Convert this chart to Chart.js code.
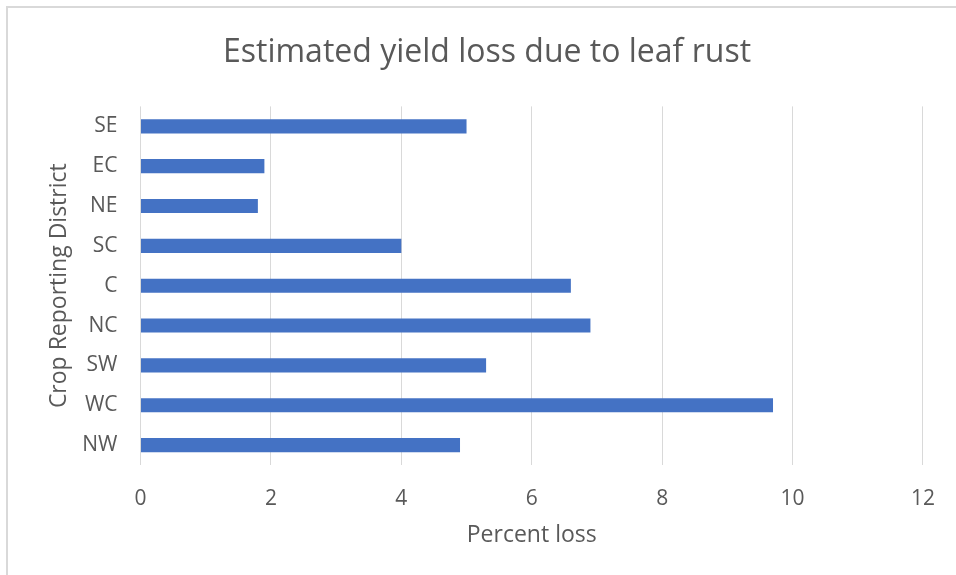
<!DOCTYPE html>
<html>
<head>
<meta charset="utf-8">
<script src="https://cdn.jsdelivr.net/npm/chart.js@4/dist/chart.umd.min.js"></script>
<style>
  html, body { margin: 0; padding: 0; background: #ffffff; }
  #wrap { position: relative; width: 956px; height: 575px; }
  canvas { display: block; }
</style>
</head>
<body>
<div id="wrap"><canvas id="c" width="956" height="575"></canvas></div>
<script>
const chartTitle = 'Estimated yield loss due to leaf rust';
const categories = ['SE', 'EC', 'NE', 'SC', 'C', 'NC', 'SW', 'WC', 'NW'];
const percentLoss = [5.0, 1.9, 1.8, 4.0, 6.6, 6.9, 5.3, 9.7, 4.9];
const xTickValues = [0, 2, 4, 6, 8, 10, 12];
const xAxisTitle = 'Percent loss';
const yAxisTitle = 'Crop Reporting District';

const FONT = "'Open Sans', 'DejaVu Sans', sans-serif";
const TEXT = '#595959';

const frame = {
  id: 'frame',
  beforeDraw(chart) {
    const ctx = chart.ctx;
    ctx.save();
    ctx.fillStyle = '#ffffff';
    ctx.fillRect(0, 0, chart.width, chart.height);
    ctx.fillStyle = '#d9d9d9';
    ctx.fillRect(6, 6, chart.width - 6, 2);
    ctx.fillRect(6, 6, 2, chart.height - 6);
    ctx.restore();
  }
};

new Chart(document.getElementById('c'), {
  type: 'bar',
  data: {
    labels: categories,
    datasets: [{
      label: xAxisTitle,
      data: percentLoss,
      backgroundColor: '#4472C4',
      borderWidth: 0,
      categoryPercentage: 0.355,
      barPercentage: 1.0
    }]
  },
  options: {
    indexAxis: 'y',
    responsive: false,
    animation: false,
    devicePixelRatio: 1,
    layout: { padding: { left: 49, right: 31, top: 0, bottom: 0 } },
    plugins: {
      legend: { display: false },
      tooltip: { enabled: false },
      title: {
        display: true,
        text: chartTitle,
        color: TEXT,
        font: { family: FONT, size: 32, weight: 'normal', lineHeight: 1.2 },
        padding: { top: 34, bottom: 34 }
      }
    },
    scales: {
      x: {
        min: 0,
        max: 12,
        afterBuildTicks(scale) { scale.ticks = xTickValues.map(v => ({ value: v })); },
        afterFit(scale) { scale.height = 110; },
        grid: { color: '#d9d9d9', lineWidth: 1, drawTicks: false },
        border: { display: false },
        ticks: {
          color: TEXT,
          font: { family: FONT, size: 21 },
          padding: 21,
          maxRotation: 0
        },
        title: {
          display: true,
          text: xAxisTitle,
          color: TEXT,
          font: { family: FONT, size: 23, lineHeight: 1.2 },
          padding: { top: 0, bottom: 26 }
        }
      },
      y: {
        afterFit(scale) { scale.width = 91.5; },
        grid: { display: false, drawTicks: false },
        border: { display: false },
        ticks: {
          color: TEXT,
          font: { family: FONT, size: 21 },
          padding: 23
        },
        title: {
          display: true,
          text: yAxisTitle,
          color: TEXT,
          font: { family: FONT, size: 23, lineHeight: 1.2 },
          padding: { top: -3, bottom: 0 }
        }
      }
    }
  },
  plugins: [frame]
});
</script>
</body>
</html>
